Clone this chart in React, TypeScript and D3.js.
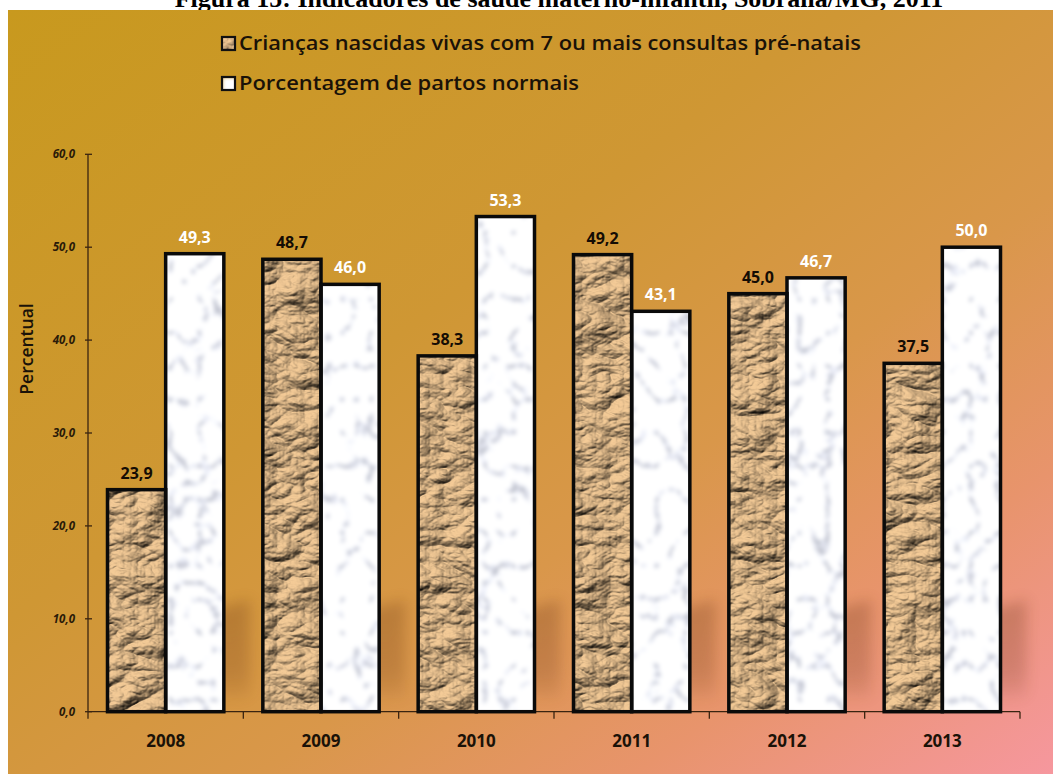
import React from "react";
import * as d3 from "d3";

const years = ["2008", "2009", "2010", "2011", "2012", "2013"];
const prenatal = [23.9, 48.7, 38.3, 49.2, 45.0, 37.5];
const normal = [49.3, 46.0, 53.3, 43.1, 46.7, 50.0];
const seriesKeys = ["prenatal", "normal"];
const seriesNames = [
  "Crianças nascidas vivas com 7 ou mais consultas pré-natais",
  "Porcentagem de partos normais",
];
const yTicks = [0, 10, 20, 30, 40, 50, 60];
const titleText = "Figura 15: Indicadores de saúde materno-infantil, Sobrália/MG, 2011";
const yTitle = "Percentual";

const W = 1053;
const H = 774;
const FONT = "'Open Sans', 'DejaVu Sans', sans-serif";
const legendWidths = [622, 340];

export default function App() {
  const x = d3.scaleBand<string>().domain(years).range([88, 1020]).padding(0);
  const xs = d3
    .scaleBand<string>()
    .domain(seriesKeys)
    .range([19.5, x.bandwidth() - 19.5])
    .padding(0);
  const y = d3.scaleLinear().domain([0, 60]).range([711.7, 154.3]);
  const fmt = (v: number) => d3.format(".1f")(v).replace(".", ",");
  const data = years.map((yr, i) => ({ yr, prenatal: prenatal[i], normal: normal[i] }));
  const base = y(0);

  return (
    <svg
      width={W}
      height={H}
      style={{ position: "absolute", left: 0, top: 0, background: "#fff" }}
    >
      <defs>
        <linearGradient id="bg" x1="0" y1="0" x2="1" y2="1">
          <stop offset="0" stopColor="#c8991e" />
          <stop offset="0.4" stopColor="#cf9734" />
          <stop offset="0.62" stopColor="#d9974a" />
          <stop offset="0.8" stopColor="#e8946c" />
          <stop offset="1" stopColor="#f6979e" />
        </linearGradient>
        <linearGradient id="shadowFade" x1="0" y1="0" x2="0" y2="1">
          <stop offset="0" stopColor="#6a3318" stopOpacity="1" />
          <stop offset="0.7" stopColor="#6a3318" stopOpacity="0.8" />
          <stop offset="1" stopColor="#6a3318" stopOpacity="0.2" />
        </linearGradient>
        <filter
          id="paper"
          filterUnits="userSpaceOnUse"
          primitiveUnits="userSpaceOnUse"
          x="0"
          y="0"
          width={W}
          height={H}
          colorInterpolationFilters="sRGB"
        >
          <feTurbulence type="turbulence" baseFrequency="0.018 0.032" numOctaves="5" seed="5" result="noise" />
          <feDiffuseLighting in="noise" surfaceScale="7" diffuseConstant="1.18" lightingColor="#cfac80" result="light">
            <feDistantLight azimuth="230" elevation="58" />
          </feDiffuseLighting>
          <feComposite in="light" in2="SourceAlpha" operator="in" />
        </filter>
        <filter
          id="marble"
          filterUnits="userSpaceOnUse"
          primitiveUnits="userSpaceOnUse"
          x="0"
          y="0"
          width={W}
          height={H}
          colorInterpolationFilters="sRGB"
        >
          <feTurbulence type="turbulence" baseFrequency="0.035 0.03" numOctaves="3" seed="11" result="t" />
          <feColorMatrix
            in="t"
            type="matrix"
            values="1.9 0 0 0 0.66  1.9 0 0 0 0.67  1.9 0 0 0 0.71  0 0 0 0 1"
            result="m"
          />
          <feGaussianBlur in="m" stdDeviation="2.2" result="mb" />
          <feComposite in="mb" in2="SourceAlpha" operator="in" />
        </filter>
        <filter id="shadowBlur" x="-30%" y="-30%" width="160%" height="160%">
          <feGaussianBlur stdDeviation="7" />
        </filter>
      </defs>

      {/* title (partly hidden, as in the source image) */}
      <text
        x={559}
        y={7}
        textAnchor="middle"
        fontFamily="'Liberation Serif', 'Times New Roman', serif"
        fontWeight="bold"
        fontSize={26}
        fill="#000"
      >
        {titleText}
      </text>

      <rect x={8} y={10} width={W - 8} height={H - 10} fill="url(#bg)" />

      {/* legend */}
      {seriesNames.map((name, i) => (
        <g key={name} transform={`translate(222, ${37 + i * 40})`}>
          <rect x={0} y={0} width={13} height={13} fill="#fff" filter={i === 0 ? "url(#paper)" : "url(#marble)"} />
          <rect x={0} y={0} width={13} height={13} fill="none" stroke="#111" strokeWidth={2.2} />
          <text
            x={17}
            y={13}
            fontFamily={FONT}
            fontWeight={600}
            fontSize={19.5}
            fill="#1a1208"
            textLength={legendWidths[i]}
            lengthAdjust="spacingAndGlyphs"
          >
            {name}
          </text>
        </g>
      ))}

      {/* shadows */}
      <g filter="url(#shadowBlur)" opacity={0.28}>
        {data.map((d) => {
          const L = x(d.yr)! + xs("prenatal")!;
          const R = x(d.yr)! + xs("normal")! + xs.bandwidth();
          const pts = [
            [L + 10, base - 10],
            [L + 10, base - 75],
            [R + 26, base - 112],
            [R + 26, base - 14],
          ];
          return <polygon key={d.yr} points={pts.map((p) => p.join(",")).join(" ")} fill="url(#shadowFade)" />;
        })}
      </g>

      {/* axes */}
      <g stroke="#3a2410" strokeWidth={1.3} fill="none">
        <line x1={88} x2={88} y1={y(60)} y2={base} />
        <line x1={88} x2={1020} y1={base} y2={base} />
        {yTicks.map((t) => (
          <line key={t} x1={85} x2={92} y1={y(t)} y2={y(t)} />
        ))}
        {years.map((yr) => (
          <line key={yr} x1={x(yr)!} x2={x(yr)!} y1={base} y2={base + 7} />
        ))}
        <line x1={1020} x2={1020} y1={base} y2={base + 7} />
      </g>
      {yTicks.map((t) => (
        <text
          key={t}
          x={75}
          y={y(t) + 4}
          textAnchor="end"
          fontFamily={FONT}
          fontStyle="italic"
          fontWeight="bold"
          fontSize={11.5}
          fill="#2a1a08"
        >
          {fmt(t)}
        </text>
      ))}
      <text
        transform={`translate(33, 349) rotate(-90)`}
        textAnchor="middle"
        fontFamily={FONT}
        fontSize={17.5}
        fontWeight={600}
        fill="#1a1208"
      >
        {yTitle}
      </text>
      {years.map((yr) => (
        <text
          key={yr}
          x={x(yr)! + x.bandwidth() / 2}
          y={747}
          textAnchor="middle"
          fontFamily={FONT}
          fontWeight="bold"
          fontSize={17}
          fill="#1a1208"
        >
          {yr}
        </text>
      ))}

      {/* bar fills */}
      <g filter="url(#paper)">
        {data.map((d) => (
          <rect
            key={d.yr}
            x={x(d.yr)! + xs("prenatal")!}
            y={y(d.prenatal)}
            width={xs.bandwidth()}
            height={base - y(d.prenatal)}
            fill="#fff"
          />
        ))}
      </g>
      <g filter="url(#marble)">
        {data.map((d) => (
          <rect
            key={d.yr}
            x={x(d.yr)! + xs("normal")!}
            y={y(d.normal)}
            width={xs.bandwidth()}
            height={base - y(d.normal)}
            fill="#fff"
          />
        ))}
      </g>
      {/* bar outlines */}
      <g fill="none" stroke="#0a0a0a" strokeWidth={3.5}>
        {data.map((d) =>
          seriesKeys.map((k) => {
            const v = (d as any)[k] as number;
            return (
              <rect
                key={d.yr + k}
                x={x(d.yr)! + xs(k)!}
                y={y(v)}
                width={xs.bandwidth()}
                height={base - y(v)}
              />
            );
          })
        )}
      </g>

      {/* value labels */}
      {data.map((d) =>
        seriesKeys.map((k) => {
          const v = (d as any)[k] as number;
          return (
            <text
              key={d.yr + k + "l"}
              x={x(d.yr)! + xs(k)! + xs.bandwidth() / 2}
              y={y(v) - 11}
              textAnchor="middle"
              fontFamily={FONT}
              fontWeight="bold"
              fontSize={16}
              fill={k === "prenatal" ? "#140c04" : "#ffffff"}
            >
              {fmt(v)}
            </text>
          );
        })
      )}
    </svg>
  );
}
